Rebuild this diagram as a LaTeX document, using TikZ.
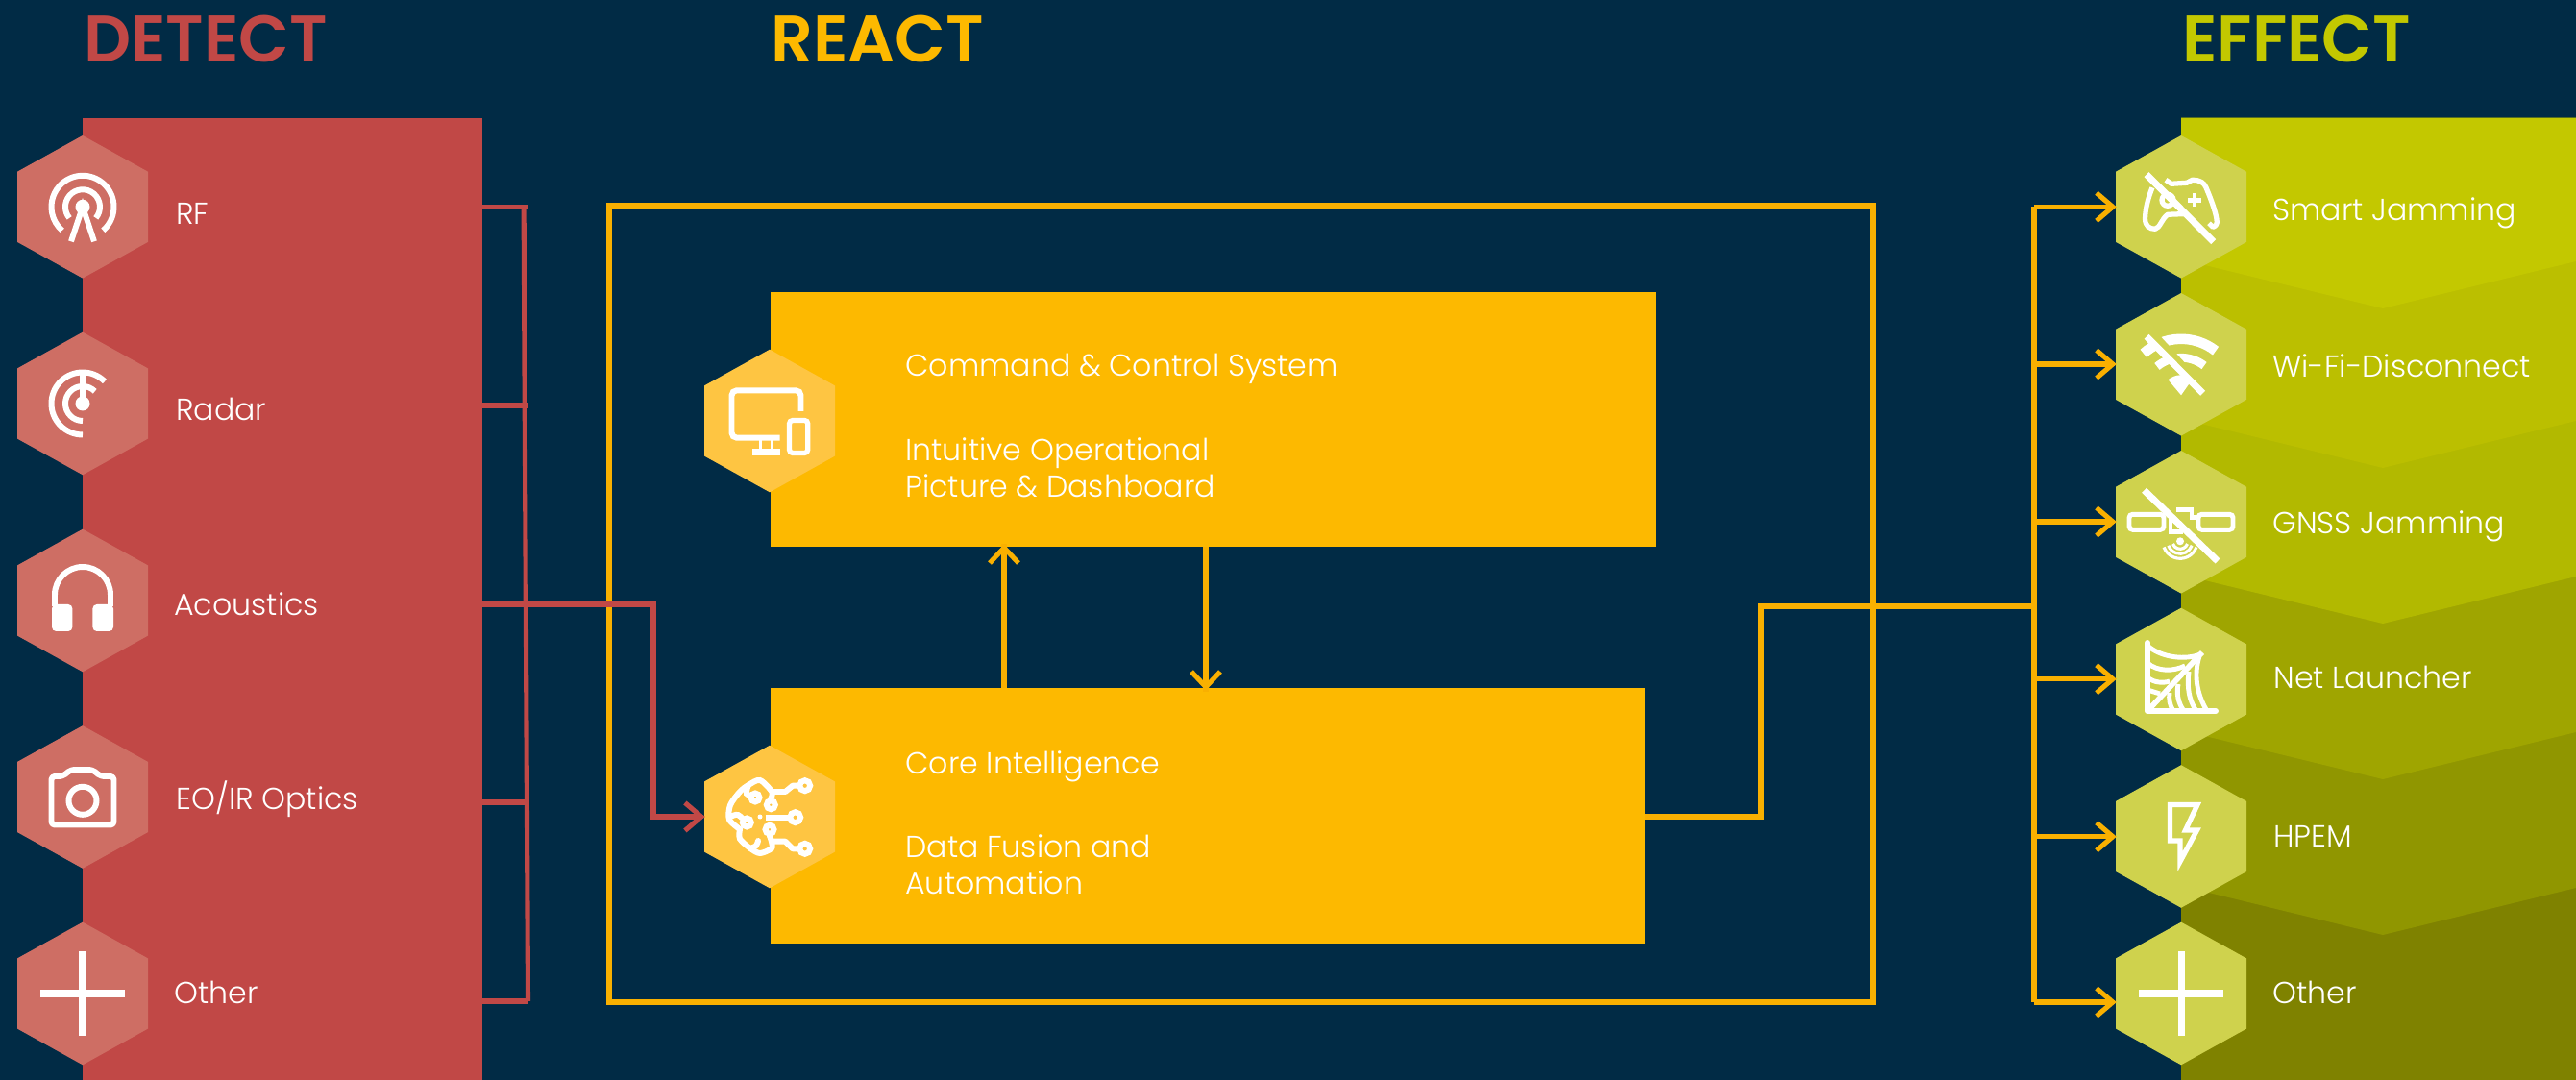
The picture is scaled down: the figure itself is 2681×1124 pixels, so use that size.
\documentclass[tikz,border=0pt]{standalone}
\usepackage{fontspec}
\setmainfont{Poppins}[UprightFont=* Light,BoldFont=* SemiBold]
\usetikzlibrary{calc}

\definecolor{navy}{HTML}{012B45}
\definecolor{detectred}{HTML}{C14846}
\definecolor{detecthex}{HTML}{CE6E64}
\definecolor{reactgold}{HTML}{FDB900}
\definecolor{reacthex}{HTML}{FEC542}
\definecolor{linegold}{HTML}{F9B000}
\definecolor{effecthex}{HTML}{CFD24D}
\definecolor{effa}{HTML}{C3C800}
\definecolor{effb}{HTML}{BBBF00}
\definecolor{effc}{HTML}{B2B900}
\definecolor{effd}{HTML}{9FA500}
\definecolor{effe}{HTML}{909600}
\definecolor{efff}{HTML}{7F8200}

\newcommand*{\pxu}{0.02cm}
\tikzstyle{hexbox} = [style={rectangle,inner sep=0,minimum width=136*\pxu,minimum height=148.6*\pxu}]
\tikzstyle{panel} = [style={rectangle,inner sep=0}]
\tikzstyle{label} = [style={anchor=base west,inner sep=0,text=white,font=\fontsize{18}{22}\selectfont}]
\tikzstyle{para} = [style={anchor=west,inner sep=0,text=white,align=left,font=\fontsize{18}{21.6}\selectfont}]
\tikzstyle{title} = [style={anchor=base west,inner sep=0,font=\fontsize{39}{44}\bfseries\selectfont}]
\tikzstyle{redline} = [style={draw=detectred,line width=2.9pt}]
\tikzstyle{goldline} = [style={draw=linegold,line width=2.9pt}]
\tikzstyle{icon} = [style={draw=white,line width=3.4pt,line cap=butt}]
\tikzstyle{tip} = [style={line width=2.9pt,miter limit=10}]

%% one hexagon with its invisible node for the connectors
\newcommand*{\hexa}[4]{
  \fill[#4] (#2,#3) ++(0,-74.3) -- ++(68,37.7) -- ++(0,73.2) -- ++(-68,37.7) -- ++(-68,-37.7) -- ++(0,-73.2) -- cycle;
  \node[hexbox] (#1) at (#2,#3) {};}

%% open arrow head ending at the given node anchor
\newcommand*{\chev}[2]{
  \draw[tip,#2] (#1) ++(-18,-14.5) -- ++(17,14.5) -- ++(-17,14.5);}

\begin{document}
\begin{tikzpicture}[x=0.02cm,y=-0.02cm]
\useasboundingbox (0,0) rectangle (2681,1124);
\fill[navy] (0,0) rectangle (2681,1124);

%% panels
\node[panel,fill=detectred,minimum width=416*\pxu,minimum height=1001*\pxu] (detect) at (294,623.5) {};

\fill[efff] (2270,123) rectangle (2681,1124);
\foreach \yy/\col in {973/effe,811/effd,649/effc,487/effb,321/effa}
  {\fill[\col] (2270,123) -- (2681,123) -- (2681,\yy-49) -- (2480,\yy) -- (2270,\yy-51) -- cycle;}

\node[panel,fill=reactgold,minimum width=922*\pxu,minimum height=265*\pxu] (command) at (1263,436.5) {};
\node[panel,fill=reactgold,minimum width=910*\pxu,minimum height=265*\pxu] (core) at (1257,849) {};
\node[panel,draw=linegold,line width=2.9pt,minimum width=1315*\pxu,minimum height=829*\pxu] (frame) at (1291.5,628.5) {};

%% titles
\node[title,text=detectred] (tdetect) at (87,65) {DETECT};
\node[title,text=reactgold] (treact) at (802,65) {REACT};
\node[title,text=effa] (teffect) at (2271,65) {EFFECT};

%% hexagons
\foreach \name/\yy in {hrf/215.3,hradar/420,hacoustics/625,hoptics/829.5,hother/1034}
  {\hexa{\name}{86}{\yy}{detecthex}}
\foreach \name/\yy in {hsmart/215.3,hwifi/379.3,hgnss/543.3,hnet/707,hhpem/870.5,hplus/1034}
  {\hexa{\name}{2270}{\yy}{effecthex}}
\hexa{hcommand}{801}{438}{reacthex}
\hexa{hcore}{801}{850}{reacthex}

%% detect bus
\coordinate (busa) at (549.5,215.5);
\coordinate (busb) at (549.5,422);
\coordinate (busc) at (549.5,629);
\coordinate (busd) at (549.5,835);
\coordinate (buse) at (549.5,1042);
\foreach \c in {busa,busb,busc,busd,buse}
  {\draw[redline] (detect.east |- \c) -- (\c);}
\draw[redline] ([xshift=-2.5]busa.center) -- (buse);
\coordinate (kneea) at (680,629);
\draw[redline] (busc) -- (kneea) -- (kneea |- hcore) -- ([xshift=-2]hcore.west);
\chev{[xshift=-1]hcore.west}{draw=detectred}

%% inner arrows
\coordinate (upa) at (1045,0);
\coordinate (downa) at (1255,0);
\draw[goldline] (core.north -| upa) -- ([yshift=2]command.south -| upa);
\draw[tip,draw=linegold] (1030,586) -- (1045,570) -- (1060,586);
\draw[goldline] (command.south -| downa) -- ([yshift=-2]core.north -| downa);
\draw[tip,draw=linegold] (1240,699) -- (1255,715) -- (1270,699);

%% effect bus
\coordinate (kneeb) at (1833,850);
\coordinate (kneec) at (1833,631);
\coordinate (busf) at (2117,631);
\draw[goldline] (core.east |- kneeb) -- (kneeb) -- (kneec) -- (busf);
\draw[goldline] (2117,215.3) -- (2117,1043);
\foreach \name/\yy in {hsmart/215.3,hwifi/379,hgnss/543,hnet/706.7,hhpem/870.7,hplus/1043}
  {\draw[goldline] (2117,\yy) -- ([xshift=-2]\name.west |- 0,\yy);
   \chev{[xshift=-1]\name.west |- 0,\yy}{draw=linegold}}

%% labels
\node[label] (lrf) at (183,234) {RF};
\node[label] (lradar) at (183,437.7) {Radar};
\node[label] (lacoustics) at (181,640.7) {Acoustics};
\node[label] (loptics) at (183,842.7) {EO/IR Optics};
\node[label] (lother) at (181,1044) {Other};

\node[label] (lsmart) at (2365,230) {Smart Jamming};
\node[label] (lwifi) at (2365,393) {Wi-Fi-Disconnect};
\node[label] (lgnss) at (2365,556) {GNSS Jamming};
\node[label] (lnet) at (2366,717) {Net Launcher};
\node[label] (lhpem) at (2366,881) {HPEM};
\node[label] (lplus) at (2365,1044) {Other};

\node[label] (lcommand) at (942,392) {Command \& Control System};
\node[para] (lpicture) at (942,487) {Intuitive Operational\\Picture \& Dashboard};
\node[label] (lcore) at (942,805) {Core Intelligence};
\node[para] (lfusion) at (942,900) {Data Fusion and\\Automation};

%% RF icon
\begin{scope}[shift={(hrf.center)},line width=3.4pt]
  \draw[icon] (49:32.5) arc[start angle=49,end angle=-229,radius=32.5];
  \draw[icon] (40:18) arc[start angle=40,end angle=-220,radius=18];
  \fill[white] (0,0) circle (7.5);
  \draw[icon] (-12,36) -- (0,0) -- (12,36);
\end{scope}

%% radar icon
\begin{scope}[shift={(hradar.center)}]
  \draw[icon] (-45:32.5) arc[start angle=-45,end angle=-360+90,radius=32.5] ;
  \draw[icon] (-45:18) arc[start angle=-45,end angle=-360+90,radius=18];
  \fill[white] (0,0) circle (7.5);
  \draw[icon] (0,-35) -- (0,0);
\end{scope}

%% headphones icon
\begin{scope}[shift={(hacoustics.center)}]
  \draw[icon] (-29,6) -- (-29,-6) arc[start angle=180,end angle=360,radius=29] -- (29,6);
  \fill[white,rounded corners=2.5pt] (-32,4) rectangle (-10.6,32);
  \fill[white,rounded corners=2.5pt] (10.4,4) rectangle (32,32);
\end{scope}

%% camera icon
\begin{scope}[shift={(hoptics.center)}]
  \draw[icon,rounded corners=2pt,line join=round] (-32.5,-21.5) -- (-21,-21.5) -- (-12,-28.5) -- (10,-28.5) -- (19,-21.5) -- (32.5,-21.5) -- (32.5,29) -- (-32.5,29) -- cycle;
  \draw[icon] (0,3.8) circle (14.5);
\end{scope}

%% plus icons
\foreach \name in {hother,hplus}
  {\draw[icon,line width=4pt] ([xshift=-25]\name.center) -- ([xshift=25]\name.center)
     ([yshift=-25]\name.center) -- ([yshift=25]\name.center);}

%% gamepad icon
\begin{scope}[shift={(hsmart.center)}]
  \draw[icon,line width=3pt,line join=round] (-16,-28) -- (-10,-24) -- (6,-25) -- (11.5,-28) .. controls (20,-28) and (24,-25) .. (26,-20) .. controls (32,-6) and (36,6) .. (37,13) .. controls (38,18) and (36,20) .. (33,21) -- (29,17);
  \draw[icon,line width=3pt,line join=round] (-30,-20) .. controls (-34,-10) and (-37,0) .. (-37.5,12) .. controls (-37.5,20) and (-33,23) .. (-27,23) .. controls (-22,22) and (-20,12) .. (-14,8) -- (3,7.3);
  \draw[icon,line width=3pt] (-14,-7) circle (6);
  \draw[icon,line width=2.8pt] (7,-7) -- (21,-7) (14,-14) -- (14,0);
  \draw[icon,line width=4pt] (-36,-33.7) -- (33.7,36.3);
\end{scope}

%% wifi icon
\begin{scope}[shift={(hwifi.center)}]
  \coordinate (wtip) at (0,32);
  \draw[icon,line width=6pt] (wtip) ++(-132:58.5) arc[start angle=-132,end angle=-52,radius=58.5];
  \draw[icon,line width=5pt] (wtip) ++(-130:39) arc[start angle=-130,end angle=-52,radius=39];
  \fill[white] (wtip) -- ++(-130:21) arc[start angle=-130,end angle=-55,radius=21] -- cycle;
  \draw[draw=effecthex,line width=5pt] (-31,-33) -- (30,33);
  \draw[icon,line width=4pt] (-36,-29) -- (22.6,30);
\end{scope}

%% gnss icon
\begin{scope}[shift={(hgnss.center)}]
  \draw[icon,line width=2.8pt,rounded corners=2pt] (-54,-8) rectangle (-18,8);
  \draw[icon,line width=2.8pt,rounded corners=2pt] (18,-8) rectangle (54,8);
  \draw[icon,line width=2.6pt] (-5,-13) -- (11,-13) -- (11,-5) -- (17,-5);
  \draw[icon,line width=2.6pt] (-11,-3) -- (-11,10) -- (2,10);
  \fill[white] (-1,20) circle (4);
  \draw[icon,line width=1.8pt] (-1,20) ++(20:8) arc[start angle=20,end angle=160,radius=8];
  \draw[icon,line width=1.8pt] (-1,20) ++(20:13) arc[start angle=20,end angle=160,radius=13];
  \draw[icon,line width=1.8pt] (-1,20) ++(20:18) arc[start angle=20,end angle=160,radius=18];
  \draw[icon,line width=4pt] (-38.5,-33) -- (38,40.7);
\end{scope}

%% net icon
\begin{scope}[shift={(hnet.center)}]
  \draw[icon,line cap=round,line join=round] (-35,-38) -- (-35,33) -- (36,33);
  \draw[icon,line width=2.8pt] (-35,-35) .. controls (-20,-22) and (5,-20) .. (20,-26);
  \draw[icon,line width=2.8pt] (-35,-17) .. controls (-25,-8) and (-8,-8) .. (4,-14);
  \draw[icon,line width=2.8pt] (-35,-2) .. controls (-28,4) and (-18,4) .. (-12,2);
  \draw[icon,line width=2.8pt] (-35,11) -- (-22,15);
  \draw[icon,line width=3.2pt] (-35,33) -- (22,-28);
  \draw[icon,line width=2.8pt] (19,-24) .. controls (13,-5) and (16,15) .. (27,33);
  \draw[icon,line width=2.8pt] (8,-8) .. controls (6,8) and (8,22) .. (16,33);
  \draw[icon,line width=2.8pt] (-3,5) .. controls (-5,15) and (-3,25) .. (3,33);
  \draw[icon,line width=2.8pt] (-12,14) .. controls (-13,20) and (-12,27) .. (-8,33);
\end{scope}

%% bolt icon
\begin{scope}[shift={(hhpem.center)}]
  \draw[icon,line width=3pt,miter limit=15] (-11.5,-33) -- (17,-33) -- (4.5,-6.5) -- (16.5,-6.5) -- (-1,26) -- (-1,4.5) -- (-11.5,4.5) -- cycle;
\end{scope}

%% monitor icon
\begin{scope}[shift={(hcommand.center)}]
  \draw[icon,rounded corners=3pt] (32.5,-10) -- (32.5,-31.7) -- (-39.5,-31.7) -- (-39.5,17.7) -- (10.7,17.7);
  \fill[white] (-17.7,28.7) rectangle (10.7,36);
  \fill[white] (-11,20) rectangle (-8,29);
  \fill[white] (1,20) rectangle (4,29);
  \draw[icon,line width=3pt,rounded corners=2pt] (20.5,-0.5) rectangle (39.8,33.5);
\end{scope}

%% brain icon
\begin{scope}[shift={(hcore.center)}]
  \draw[icon,line join=round] (2.3,-26) -- (16.3,-26) -- (24,-32.3) -- (36.7,-32.3);
  \draw[icon] (-4.3,0.7) -- (26.7,0.7);
  \fill[white] (-10,0) circle (2.5);
  \draw[icon,line join=round] (2.3,25.7) -- (16.3,25.7) -- (24,33.3) -- (36.7,33.3);
  \draw[icon,line cap=round,smooth] plot[smooth] coordinates {(1.3,-19) (2.3,-26) (-10,-38) (-22,-33) (-31,-26) (-41,-12) (-42,3) (-31,13)};
  \draw[icon,line cap=round] plot[smooth] coordinates {(-31,13) (-31,23) (-20,33) (-10,38) (2,33) (2,26) (0,20)};
  \draw[icon,line cap=round] plot[smooth] coordinates {(-22,-33) (-24,-24) (-15,-20)};
  \draw[icon,line cap=round] plot[smooth] coordinates {(-41,0) (-33,-2) (-24,6)};
  \draw[icon,line cap=round] plot[smooth] coordinates {(-12,25) (-14,30) (-20,33)};
  \foreach \cx/\cy/\rr in {36.7/-32.3/5.5,26.7/0.7/5.5,36.7/33.3/5.5,1.3/-12.3/4.5,0/13.3/4.5,-15/-20/4.5,-23.7/6/4.5}
    {\draw[icon,fill=reacthex,line width=3.4pt] (\cx,\cy) circle (\rr);}
\end{scope}
\end{tikzpicture}
\end{document}
